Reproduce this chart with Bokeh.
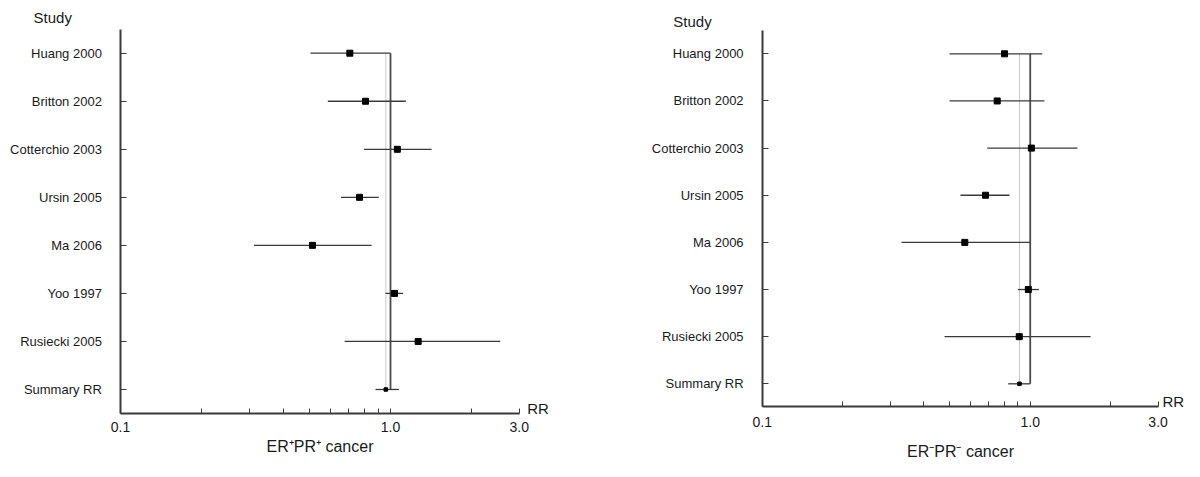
from bokeh.plotting import figure
from bokeh.layouts import row
from bokeh.models import Range1d, FixedTicker, CustomJSTickFormatter, ColumnDataSource
from bokeh.core.properties import value
from bokeh.embed import file_html
from bokeh.resources import INLINE

studies = ["Huang  2000", "Britton  2002", "Cotterchio  2003", "Ursin  2005",
           "Ma  2006", "Yoo  1997", "Rusiecki  2005", "Summary  RR"]

# ER+PR+ cancer
rr_pos = [0.707, 0.808, 1.06, 0.768, 0.514, 1.035, 1.266, 0.961]
lo_pos = [0.505, 0.586, 0.797, 0.656, 0.312, 0.958, 0.676, 0.880]
hi_pos = [1.00, 1.14, 1.42, 0.905, 0.851, 1.114, 2.55, 1.074]

# ER-PR- cancer
rr_neg = [0.802, 0.753, 1.01, 0.681, 0.570, 0.984, 0.910, 0.912]
lo_neg = [0.500, 0.500, 0.691, 0.549, 0.331, 0.899, 0.479, 0.828]
hi_neg = [1.109, 1.13, 1.50, 0.837, 1.00, 1.077, 1.68, 1.00]

major_ticks = [0.1, 1.0, 3.0]
minor_ticks = [0.2, 0.3, 0.4, 0.5, 0.6, 0.7, 0.8, 0.9, 2.0]

FONT = "Liberation Sans"
TXT = "#1a1a1a"
LINE = "#3a3a3a"


def panel(rr, lo, hi, xlabel, width, xr, yr, x_axis_y,
          tick_standoff, label_standoff, study_xy, rr_xy):
    n = len(studies)
    ys = list(range(n, 0, -1))
    p = figure(width=width, height=461, x_axis_type="log",
               x_range=Range1d(*xr), y_range=Range1d(*yr),
               output_backend="svg", toolbar_location=None,
               min_border_left=0, min_border_right=0,
               min_border_top=0, min_border_bottom=0)
    p.outline_line_color = None
    p.grid.visible = False
    p.background_fill_color = "white"
    p.border_fill_color = "white"

    # x axis, placed at bottom of the study rows
    xa = p.xaxis[0]
    xa.fixed_location = x_axis_y
    xa.bounds = (0.1, 3.0)
    xa.ticker = FixedTicker(ticks=major_ticks, minor_ticks=minor_ticks)
    xa.formatter = CustomJSTickFormatter(code="return tick.toFixed(1);")
    xa.major_tick_in = 5
    xa.major_tick_out = 0
    xa.minor_tick_in = 5
    xa.minor_tick_out = 0
    xa.axis_line_width = 2
    xa.axis_line_color = LINE
    xa.major_tick_line_color = LINE
    xa.minor_tick_line_color = LINE
    xa.major_label_text_font = FONT
    xa.major_label_text_font_size = "14px"
    xa.major_label_text_color = TXT
    xa.major_label_standoff = tick_standoff
    xa.axis_label = xlabel
    xa.axis_label_text_font = FONT
    xa.axis_label_text_font_style = "normal"
    xa.axis_label_text_font_size = "16px"
    xa.axis_label_text_color = TXT
    xa.axis_label_standoff = label_standoff

    # y axis, placed at RR = 0.1
    ya = p.yaxis[0]
    ya.fixed_location = 0.1
    ya.bounds = (x_axis_y, ys[0] + 0.493)
    ya.ticker = FixedTicker(ticks=ys, minor_ticks=[])
    ya.major_label_overrides = {y: s for y, s in zip(ys, studies)}
    ya.major_tick_in = 6
    ya.major_tick_out = 0
    ya.minor_tick_line_color = None
    ya.axis_line_width = 2
    ya.axis_line_color = LINE
    ya.major_tick_line_color = LINE
    ya.major_label_text_font = FONT
    ya.major_label_text_font_size = "13px"
    ya.major_label_text_color = TXT
    ya.major_label_standoff = 15

    summary_rr = rr[-1]
    p.segment(x0=[summary_rr], y0=[ys[0]], x1=[summary_rr], y1=[ys[-1]],
              line_color="#c8c8c8", line_width=1)
    p.segment(x0=[1.0], y0=[ys[0]], x1=[1.0], y1=[ys[-1]],
              line_color="#4a4a4a", line_width=1.8)

    src = ColumnDataSource(dict(y=ys[:-1], rr=rr[:-1], lo=lo[:-1], hi=hi[:-1]))
    p.segment(x0="lo", y0="y", x1="hi", y1="y", source=src,
              line_color=LINE, line_width=1.3)
    p.scatter(x="rr", y="y", source=src, marker="square", size=6,
              fill_color="black", line_color="black")

    p.segment(x0=[lo[-1]], y0=[ys[-1]], x1=[hi[-1]], y1=[ys[-1]],
              line_color=LINE, line_width=1.3)
    p.scatter(x=[rr[-1]], y=[ys[-1]], marker="square", size=3.5,
              fill_color="black", line_color="black")

    p.text(x=[study_xy[0]], y=[study_xy[1]], text=["Study"],
           text_font=value(FONT), text_font_size="15px", text_color=TXT,
           text_align="left", text_baseline="middle")
    p.text(x=[rr_xy[0]], y=[rr_xy[1]], text=["RR"],
           text_font=value(FONT), text_font_size="15px", text_color=TXT,
           text_align="left", text_baseline="middle")
    return p


p1 = panel(rr_pos, lo_pos, hi_pos, "ER\u207aPR\u207a cancer", 614,
           (0.03594, 6.755), (-0.499, 9.097), 0.507,
           9, 2, (0.04763, 8.733), (3.21, 0.611))
p2 = panel(rr_neg, lo_neg, hi_neg, "ER\u207bPR\u207b cancer", 570,
           (0.02811, 3.764), (-0.648, 9.131), 0.518,
           10, 13, (0.04658, 8.692), (3.116, 0.631))

layout = row(p1, p2)
open("out.html", "w").write(file_html(layout, INLINE))
